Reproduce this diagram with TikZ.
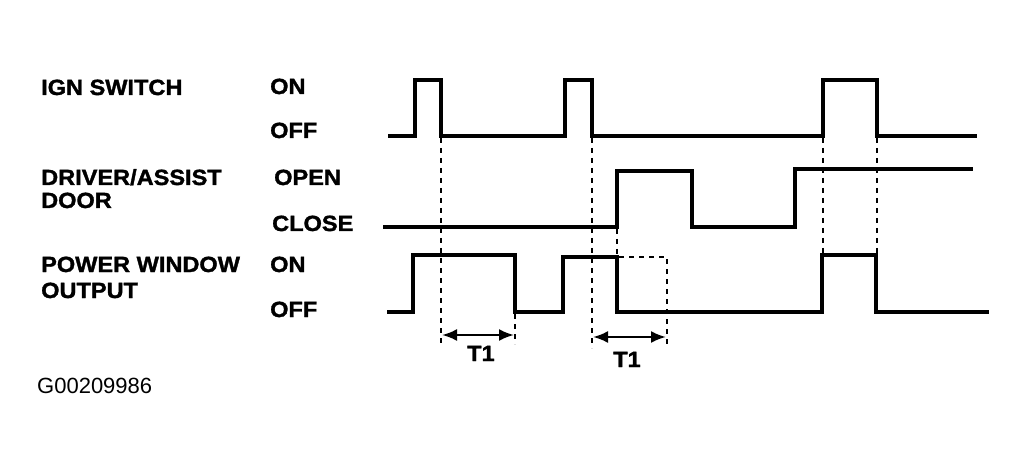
\documentclass[tikz,border=0pt]{standalone}
\usepackage{fontspec}
\setmainfont{Liberation Sans}
\newfontfamily\labfont[FakeStretch=1.07,FakeBold=1.5]{Liberation Sans Bold}
\usetikzlibrary{arrows.meta}
\begin{document}
\begin{tikzpicture}[x=1pt,y=-1pt,
  lab/.style={anchor=base west,inner sep=0pt,font=\labfont\fontsize{22}{24}\selectfont},
  sig/.style={line width=3.3pt,line join=miter},
  guide/.style={line width=2.6pt,dash pattern=on 5pt off 5pt},
  dim/.style={line width=2.4pt,{Latex[length=15pt,width=12pt]}-{Latex[length=15pt,width=12pt]}}]
\useasboundingbox (0,0) rectangle (1027,470);
% labels
\node[lab] (ign) at (41,95) {IGN SWITCH};
\node[lab] (drv) at (41,185) {DRIVER/ASSIST};
\node[lab] (door) at (41,208) {DOOR};
\node[lab] (pw) at (41,272) {POWER WINDOW};
\node[lab] (out) at (41,298) {OUTPUT};
\node[lab] (on1) at (270,94) {ON};
\node[lab] (off1) at (270,138) {OFF};
\node[lab] (open) at (274,185) {OPEN};
\node[lab] (close) at (272,231) {CLOSE};
\node[lab] (on2) at (270,272) {ON};
\node[lab] (off2) at (270,317) {OFF};
\node[anchor=base west,inner sep=0pt,font=\fontsize{22}{24}\selectfont] (code) at (37,393) {G00209986};
% IGN switch
\draw[sig] (388,136) -- (415,136) -- (415,80) -- (441,80) -- (441,136) -- (565,136) -- (565,80) -- (592,80) -- (592,136)
  -- (823,136) -- (823,80) -- (877,80) -- (877,136) -- (977,136);
% door
\draw[sig] (383,227) -- (617,227) -- (617,171) -- (692,171) -- (692,227) -- (795,227) -- (795,169) -- (973,169);
% power window output
\draw[sig] (387,312) -- (413,312) -- (413,255) -- (515,255) -- (515,312) -- (563,312) -- (563,257) -- (617,257) -- (617,312)
  -- (822,312) -- (822,255) -- (876,255) -- (876,312) -- (989,312);
% dashed guides
\coordinate (g1t) at (441,138); \coordinate (g1b) at (441,344);
\coordinate (g2t) at (592,138); \coordinate (g2b) at (592,348);
\coordinate (g3t) at (515,314); \coordinate (g3b) at (515,344);
\coordinate (g4t) at (617,229); \coordinate (g4b) at (617,255);
\coordinate (g5t) at (823,138); \coordinate (g5b) at (823,253);
\coordinate (g6t) at (877,138); \coordinate (g6b) at (877,253);
\coordinate (bx1) at (619,257); \coordinate (bx2) at (667,257); \coordinate (bx3) at (667,344);
\draw[guide] (g1t) -- (g1b);
\draw[guide] (g2t) -- (g2b);
\draw[guide] (g3t) -- (g3b);
\draw[guide] (g4t) -- (g4b);
\draw[guide] (g5t) -- (g5b);
\draw[guide] (g6t) -- (g6b);
\draw[guide] (bx1) -- (bx2) -- (bx3);
% T1 dimensions
\coordinate (a1) at (442,335); \coordinate (a2) at (514,335);
\coordinate (b1) at (593,337); \coordinate (b2) at (666,337);
\draw[dim] (a1) -- (a2);
\draw[dim] (b1) -- (b2);
\node[lab] (t1a) at (467,361) {T1};
\node[lab] (t1b) at (613,367) {T1};
\end{tikzpicture}
\end{document}
